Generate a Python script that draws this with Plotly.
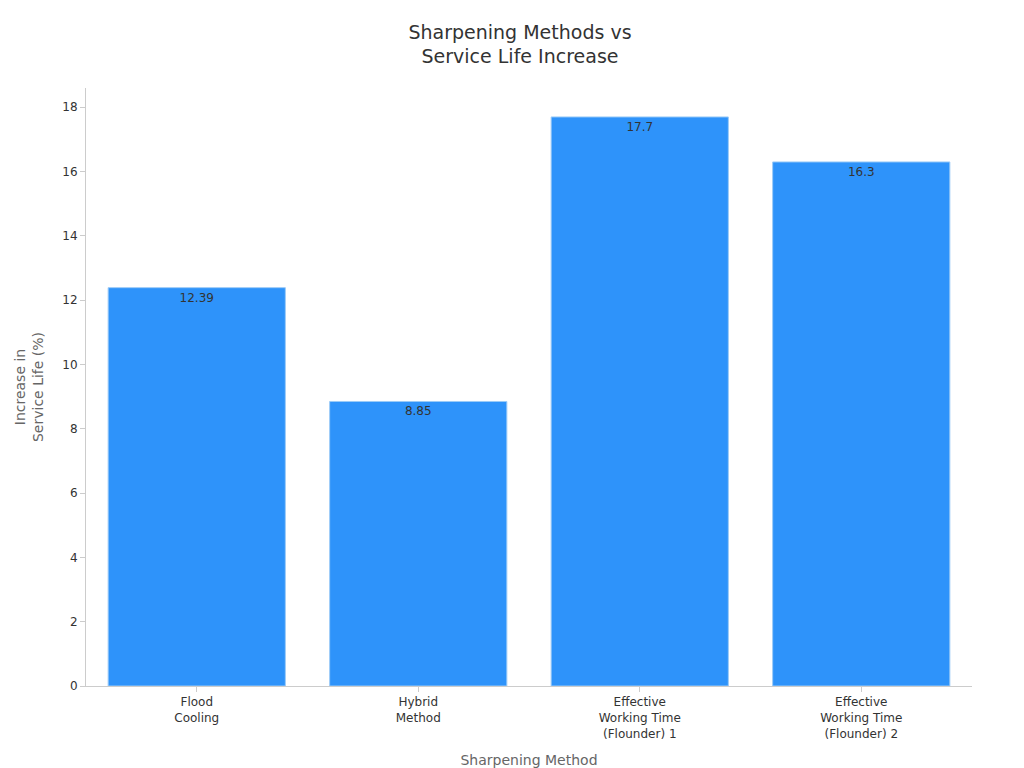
import plotly.graph_objects as go

categories = ["Flood<br>Cooling", "Hybrid<br>Method", "Effective<br>Working Time<br>(Flounder) 1", "Effective<br>Working Time<br>(Flounder) 2"]
values = [12.39, 8.85, 17.7, 16.3]
labels = ["12.39", "8.85", "17.7", "16.3"]

fig = go.Figure(go.Bar(x=categories, y=values, text=labels, textposition="inside",
    insidetextanchor="end", textfont=dict(color="#333", size=12),
    marker=dict(color="#2E93FA", line=dict(color="#9CCBF7", width=1)), width=0.8))
fig.update_layout(
    width=1024, height=768, plot_bgcolor="white", paper_bgcolor="white",
    font=dict(family="DejaVu Sans", color="#333"),
    title=dict(text="Sharpening Methods vs<br>Service Life Increase", x=0.5, xanchor="center", y=0.96, font=dict(size=19)),
    margin=dict(l=78, r=60, t=80, b=90),
    xaxis=dict(title=dict(text="Sharpening Method", font=dict(size=14, color="#666")), showline=True, linecolor="#ccc", tickfont=dict(size=12), ticks="outside", tickcolor="#ccc"),
    yaxis=dict(title=dict(text="Increase in<br>Service Life (%)", font=dict(size=14, color="#666")), showline=True, linecolor="#ccc", showgrid=False, range=[0, 18.6], dtick=2, ticks="outside", tickcolor="#ccc", tickfont=dict(size=12), zeroline=False),
    bargap=0.2,
)
fig.write_html("out.html")
